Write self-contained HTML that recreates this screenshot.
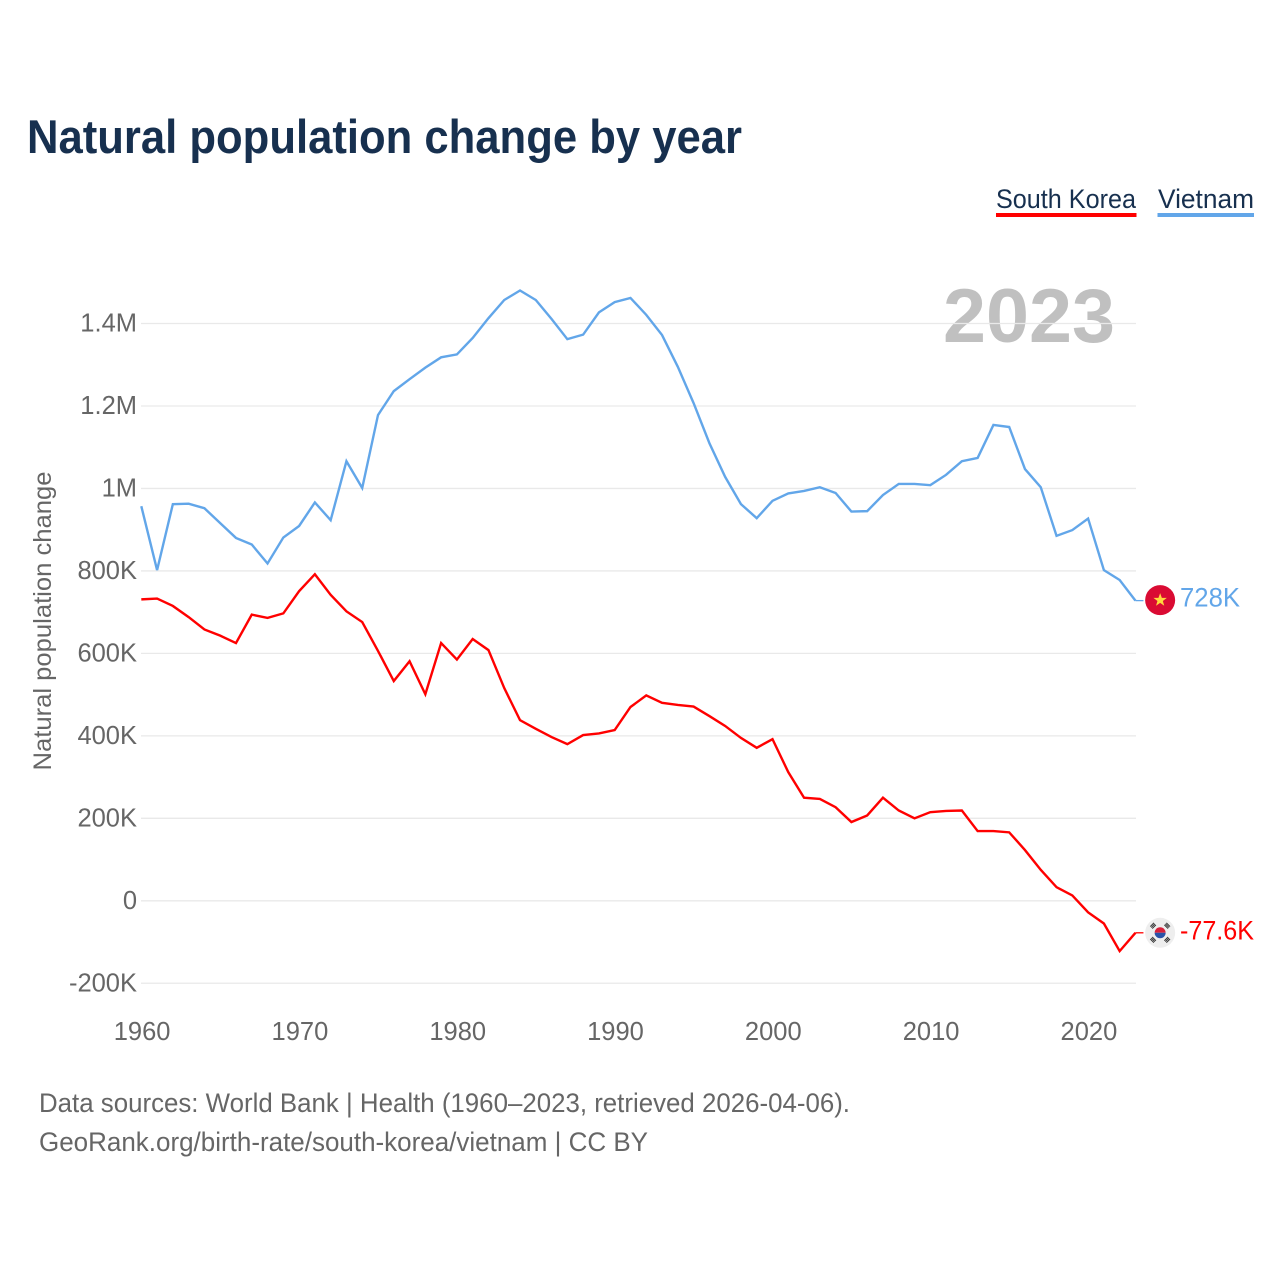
<!DOCTYPE html>
<html lang="en">
<head>
<meta charset="utf-8">
<title>Natural population change by year</title>
<style>
html,body{margin:0;padding:0;background:#fff;width:1280px;height:1280px;overflow:hidden}
svg{display:block}
text{font-family:"Liberation Sans",sans-serif}
.tick{font-size:25.5px;fill:#666}
</style>
</head>
<body>
<svg id="chart" width="1280" height="1280" viewBox="0 0 1280 1280" xmlns="http://www.w3.org/2000/svg">
  <text x="27" y="153" font-size="47" font-weight="700" fill="#17304f" textLength="715" lengthAdjust="spacingAndGlyphs">Natural population change by year</text>

  <g>
    <g>
      <text x="996" y="208" font-size="27" fill="#17304f" textLength="140" lengthAdjust="spacingAndGlyphs">South Korea</text>
      <rect x="996" y="213" width="140.500" height="4" fill="#ff0000"/>
    </g>
    <g>
      <text x="1158" y="208" font-size="27" fill="#17304f" textLength="96" lengthAdjust="spacingAndGlyphs">Vietnam</text>
      <rect x="1157.500" y="213" width="96.500" height="4" fill="#62a6e9"/>
    </g>
  </g>

  <text x="943" y="342" font-size="76" font-weight="700" fill="#c0c0c0" textLength="172" lengthAdjust="spacingAndGlyphs">2023</text>

  <g id="grid"></g>
  <g id="yticks"></g>
  <g id="xticks"></g>

  <text transform="translate(51,621) rotate(-90)" text-anchor="middle" font-size="25" fill="#666" textLength="299" lengthAdjust="spacingAndGlyphs">Natural population change</text>

  <g id="series"></g>
  <g id="endmarks"></g>

  <text x="39" y="1112" font-size="27" fill="#666" textLength="811" lengthAdjust="spacingAndGlyphs">Data sources: World Bank | Health (1960–2023, retrieved 2026-04-06).</text>
  <text x="39" y="1151" font-size="27" fill="#666" textLength="609" lengthAdjust="spacingAndGlyphs">GeoRank.org/birth-rate/south-korea/vietnam | CC BY</text>
</svg>
<script>
var startYear = 1960;
var vietnamValues = [957,802,962,963,952,916,880,864,818,881,909,966,923,1066,1001,1178,1236,1265,1293,1318,1325,1365,1413,1457,1480,1457,1411,1362,1373,1427,1452,1462,1421,1372,1295,1207,1110,1028,962,928,970,988,994,1003,989,944,945,984,1011,1011,1008,1033,1066,1074,1154,1149,1047,1003,885,899,927,802,778,728];
var koreaValues = [731,733,715,688,658,643,625,694,686,697,751,792,742,702,676,606,533,581,501,625,585,635,608,516,438,417,397,380,402,406,414,470,498,480,475,471,448,424,395,371,392,312,250,247,227,191,207,250,219,200,215,218,219,169,169,166,123,75,33,13,-28,-55,-122,-77.6];
var yTickValues = [-200,0,200,400,600,800,1000,1200,1400];
var yTickLabels = ["-200K","0","200K","400K","600K","800K","1M","1.2M","1.4M"];
var xTickYears = [1960,1970,1980,1990,2000,2010,2020];
var vietnamEndLabel = "728K";
var koreaEndLabel = "-77.6K";

var NS = "http://www.w3.org/2000/svg";
function xScale(year){ return 141.3 + (year - 1960) * 15.78; }
function yScale(v){ return 900.8 - v * 0.41235; }
function make(tag, attrs, parent, txt){
  var el = document.createElementNS(NS, tag);
  for (var k in attrs) el.setAttribute(k, attrs[k]);
  if (txt !== undefined) el.textContent = txt;
  parent.appendChild(el);
  return el;
}

var grid = document.getElementById("grid");
var yticks = document.getElementById("yticks");
yTickValues.forEach(function(v, i){
  var y = yScale(v);
  var line = make("line", {x1:141, x2:1136, y1:y, y2:y, stroke:"#e9e9e9", "stroke-width":1.3}, grid);
  
  
  var t = make("text", {x:137, y:y + 8, "text-anchor":"end", "class":"tick"}, yticks, yTickLabels[i]);
  
  
});

var xticks = document.getElementById("xticks");
xTickYears.forEach(function(yr){
  var t = make("text", {x:xScale(yr) + 0.8, y:1040, "text-anchor":"middle", "class":"tick"}, xticks, String(yr));
  
  
});

function linePath(values){
  return values.map(function(v, i){
    return (i ? "L" : "M") + xScale(startYear + i).toFixed(2) + " " + yScale(v).toFixed(2);
  }).join(" ");
}
var series = document.getElementById("series");
var koreaLine = make("path", {d:linePath(koreaValues), fill:"none", stroke:"#ff0000", "stroke-width":2.4, "stroke-linejoin":"miter"}, series);


var vietnamLine = make("path", {d:linePath(vietnamValues), fill:"none", stroke:"#62a6e9", "stroke-width":2.4, "stroke-linejoin":"miter"}, series);



var endmarks = document.getElementById("endmarks");
var lastX = xScale(startYear + vietnamValues.length - 1);
var flagX = lastX + 24.7;

/* Vietnam end marker */
var vy = yScale(vietnamValues[vietnamValues.length - 1]);
var vc = make("line", {x1:lastX, x2:lastX + 8, y1:vy, y2:vy, stroke:"#62a6e9", "stroke-width":1.3}, endmarks);


var vf = make("g", {transform:"translate(" + flagX + "," + (vy - 0.5) + ")"}, endmarks);


make("circle", {r:15, fill:"#da0b33"}, vf);
make("polygon", {points:"0,-7 1.7,-2.2 6.7,-2.2 2.7,0.9 4.1,5.7 0,2.8 -4.1,5.7 -2.7,0.9 -6.7,-2.2 -1.7,-2.2", fill:"#ffd83d"}, vf);
var vl = make("text", {x:1180, y:vy + 6, "font-size":27, fill:"#62a6e9", textLength:60, lengthAdjust:"spacingAndGlyphs"}, endmarks, vietnamEndLabel);



/* South Korea end marker */
var ky = yScale(koreaValues[koreaValues.length - 1]);
var kc = make("line", {x1:lastX, x2:lastX + 8, y1:ky, y2:ky, stroke:"#ff0000", "stroke-width":1.3}, endmarks);


var kf = make("g", {transform:"translate(" + flagX + "," + ky + ")"}, endmarks);


make("circle", {r:15, fill:"#eeeeee"}, kf);
make("path", {d:"M-5.5 0 A5.5 5.5 0 0 1 5.5 0 Z", fill:"#d8203a"}, kf);
make("path", {d:"M-5.5 0 A5.5 5.5 0 0 0 5.5 0 Z", fill:"#2a52a8"}, kf);
[45, 135, 225, 315].forEach(function(a){
  var g = make("g", {transform:"rotate(" + a + ") translate(0,-10)"}, kf);
  make("rect", {x:-2.6, y:-1.9, width:5.2, height:1, fill:"#333"}, g);
  make("rect", {x:-2.6, y:-0.5, width:5.2, height:1, fill:"#333"}, g);
  make("rect", {x:-2.6, y:0.9, width:5.2, height:1, fill:"#333"}, g);
});
var kl = make("text", {x:1180, y:ky + 6.5, "font-size":27, fill:"#ff0000", textLength:74, lengthAdjust:"spacingAndGlyphs"}, endmarks, koreaEndLabel);


</script>
</body>
</html>
